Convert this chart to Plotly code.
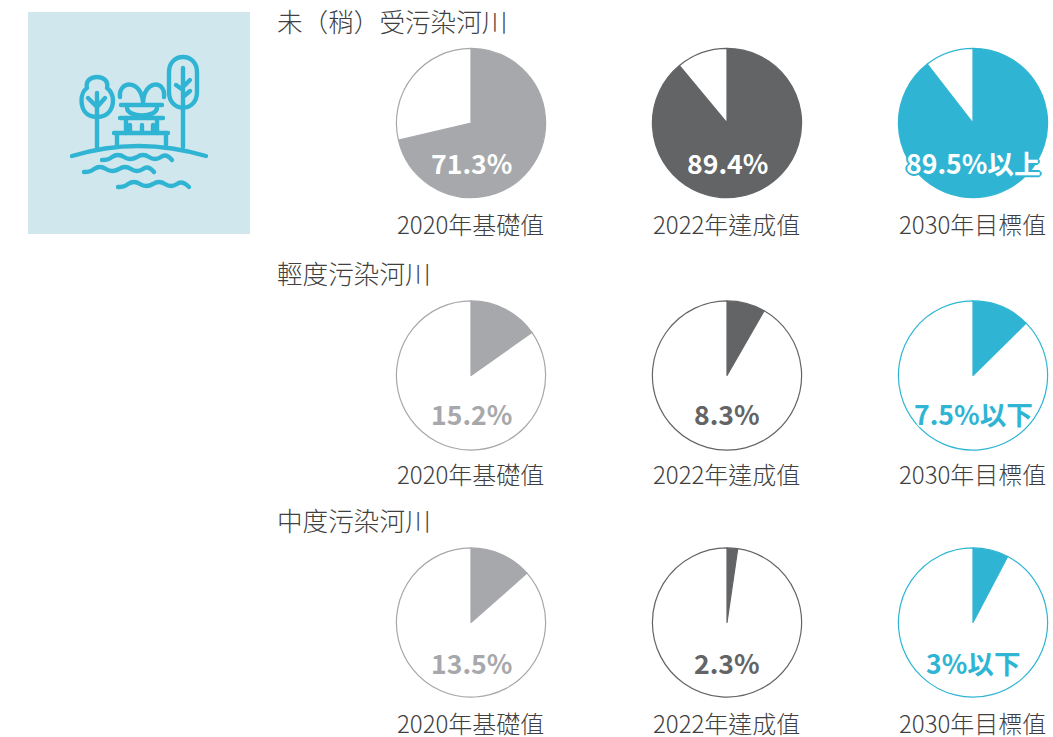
import plotly.graph_objects as go

W, H = 1053, 737
row_titles = ["未（稍）受污染河川", "輕度污染河川", "中度污染河川"]
column_labels = ["2020年基礎值", "2022年達成值", "2030年目標值"]
column_colors = ["#A7A8AB", "#636466", "#2FB5D3"]
column_text = [["71.3%", "89.4%", "89.5%以上"], ["15.2%", "8.3%", "7.5%以下"], ["13.5%", "2.3%", "3%以下"]]
# slice sizes as drawn in the picture (they differ from the printed label in the last column)
drawn_row1 = [71.3, 89.0, 89.5]
drawn_row2 = [15.2, 8.3, 12.6]
drawn_row3 = [13.5, 2.3, 7.7]
drawn = [drawn_row1, drawn_row2, drawn_row3]
centers_x = [471, 727, 973]
centers_y = [123, 375.5, 622.5]
title_y = [21, 272, 519]
value_y = [162, 413.5, 662]
label_y = [223, 474, 722]
R = 74.6
FONT = "Noto Sans CJK TC Light, Noto Sans CJK TC DemiLight, Noto Sans CJK TC"
BOLD = "Noto Sans CJK TC"
TEXT = "#404041"

fig = go.Figure()
ann = []
for r in range(3):
    ann.append(dict(x=275/W, y=1-title_y[r]/H, xref="paper", yref="paper", xanchor="left", yanchor="middle",
                    showarrow=False, text=row_titles[r], font=dict(family=FONT, size=25.6, color=TEXT, weight=300)))
    for c in range(3):
        cx, cy = centers_x[c], centers_y[r]
        v = drawn[r][c]
        col = column_colors[c]
        fig.add_trace(go.Pie(values=[v, 100-v], sort=False, direction="clockwise", rotation=0,
                             marker=dict(colors=[col, "#FFFFFF"], line=dict(color=col, width=1.2)),
                             textinfo="none", hoverinfo="skip", showlegend=False,
                             domain=dict(x=[(cx-R)/W, (cx+R)/W], y=[1-(cy+R)/H, 1-(cy-R)/H])))
        halo = "#FFFFFF" if r else col
        tcol = col if r else "#FFFFFF"
        shadow = ",".join(f"{dx}px {dy}px 0px {halo}" for dx, dy in
                          [(2,0),(-2,0),(0,2),(0,-2),(1,1),(-1,1),(1,-1),(-1,-1)])
        ann.append(dict(x=cx/W, y=1-value_y[r]/H, xref="paper", yref="paper", xanchor="center", yanchor="middle",
                        showarrow=False, text=column_text[r][c],
                        font=dict(family=BOLD, size=26.6, color=tcol, weight=700, shadow=shadow)))
        ann.append(dict(x=(cx-1)/W, y=1-label_y[r]/H, xref="paper", yref="paper", xanchor="center", yanchor="middle",
                        showarrow=False, text=column_labels[c], font=dict(family=FONT, size=24, color=TEXT, weight=300)))

ICON = "#2FB5D3"
shapes = [dict(type="rect", xref="paper", yref="paper", x0=28/W, x1=250/W, y0=1-234/H, y1=1-12/H,
               fillcolor="#D1E7EE", line=dict(width=0), layer="below")]
def P(d):
    # d uses pixel coordinates of the decorative icon
    out = []
    toks = d.split()
    i = 0
    while i < len(toks):
        t = toks[i]
        if t.isalpha():
            out.append(t); i += 1
        else:
            out.append(f"{float(t)/W:.5f},{1-float(toks[i+1])/H:.5f}"); i += 2
    return " ".join(out)
icon_paths = [
    "M 72 156 Q 138 136 206 156",
    "M 97 117 L 97 147 M 97 93 L 97 117 M 88 98 L 97 107 M 105 98 L 97 107",
    "M 97 117 C 85 117 81.5 108 81.5 100 C 81.5 95 84 90 87 88 C 85 80 92 77 97 77 C 102 77 109 80 107 88 C 110 90 113 95 113 100 C 113 108 109 117 97 117 Z",
    "M 183 68 L 183 147 M 176 85 L 183 90 M 190 80 L 183 87 M 190 91 L 183 97",
    "M 169 72 C 169 52 197 52 197 72 L 197 92 C 197 113 169 113 169 92 Z",
    "M 120 97 C 118 80 142 79 143 103 C 144 79 166 80 164 97",
    "M 121 105 L 162 105 M 127 108 C 128 118 156 118 157 108",
    "M 120 118 L 163 118 M 126 118 L 126 133 M 157 118 L 157 133 M 130 125 L 130 132 M 142 125 L 142 132 M 153 125 L 153 132",
    "M 114 133 L 168 133 M 117 133 L 117 145 M 166 133 L 166 145",
    "M 102 160 Q 109 160 112 157 Q 118 153 124 157 Q 130 161 137 157 Q 143 153 149 157 Q 155 161 161 157 Q 166 153 172 160",
    "M 84 172 Q 91 172 94 169 Q 100 165 106 169 Q 112 173 119 169 Q 125 165 131 169 Q 137 173 143 169 Q 148 165 154 172",
    "M 118 187 Q 125 187 128 184 Q 134 180 140 184 Q 146 188 153 184 Q 159 180 165 184 Q 171 188 177 184 Q 182 180 189 187",
]
for d in icon_paths:
    shapes.append(dict(type="path", xref="paper", yref="paper", path=P(d),
                       line=dict(color=ICON, width=4.4), layer="above"))

fig.update_layout(width=W, height=H, margin=dict(l=0, r=0, t=0, b=0), paper_bgcolor="#FFFFFF",
                  annotations=ann, shapes=shapes, showlegend=False)
post = ("document.body.style.margin='0';document.body.style.overflow='hidden';"
        "document.querySelectorAll('.shapelayer path').forEach(function(p){p.style.strokeLinecap='round';p.style.strokeLinejoin='round';});")
fig.write_html("out.html", config=dict(displayModeBar=False), post_script=post)
